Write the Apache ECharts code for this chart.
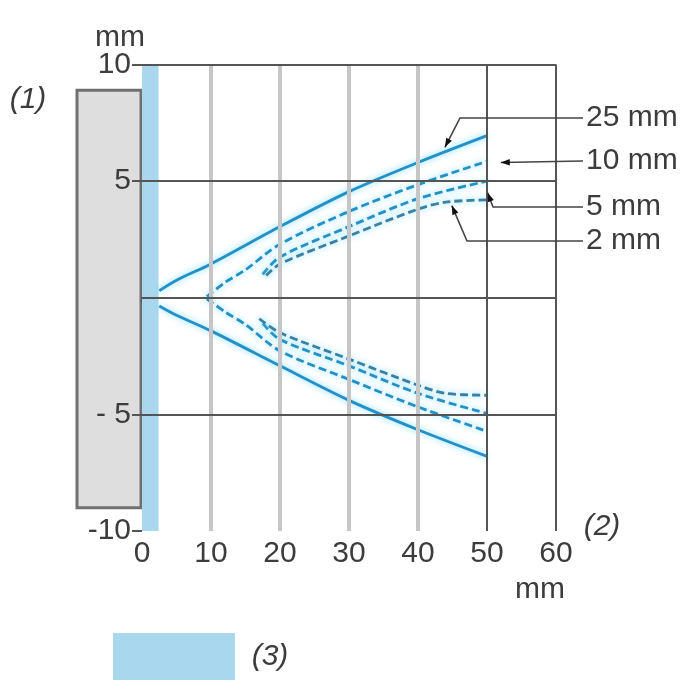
<!DOCTYPE html>
<html><head><meta charset="utf-8">
<script src="https://cdn.jsdelivr.net/npm/echarts@6/dist/echarts.min.js"></script>
<style>html,body{margin:0;padding:0;background:#fff}#c{width:700px;height:700px}</style>
</head><body><div id="c"></div>
<script>
// ---- data ----
const curveNames = ['25 mm', '10 mm', '5 mm', '2 mm'];
const yTickValues = [-10, -5, 5, 10];
const yTickLabels = ['-10', '- 5', '5', '10'];
const xTickLabels = ['0', '10', '20', '30', '40', '50', '60'];

const upper25 = [[2.5, 0.3], [5, 0.75], [10, 1.45], [20, 3.05], [30, 4.55], [40, 5.8], [50, 6.95]];
const upper10 = [[9.4, 0.05], [12, 0.65], [15, 1.2], [20, 2.3], [30, 3.7], [40, 4.85], [50, 5.85]];
const upper5  = [[17.5, 1.0], [20, 1.75], [30, 3.05], [40, 4.25], [50, 5.0]];
const upper2  = [[18, 0.95], [20, 1.45], [30, 2.65], [40, 3.8], [44, 4.1], [50, 4.2]];

const lower25 = [[2.5, -0.35], [5, -0.75], [10, -1.42], [20, -2.92], [30, -4.4], [40, -5.66], [50, -6.8]];
const lower10 = [[9.4, -0.05], [12, -0.6], [15, -1.15], [20, -2.28], [30, -3.5], [40, -4.68], [50, -5.73]];
const lower5  = [[17.5, -1.1], [20, -1.79], [30, -2.92], [40, -4.1], [50, -4.96]];
const lower2  = [[17, -0.9], [20, -1.5], [30, -2.63], [40, -3.75], [44, -4.1], [50, -4.18]];

// ---- style ----
const BLUE = '#2390c6';
const BLUE2 = '#3b7fa2';
const TXT = '#3c3c3c';
const FONT = '"Liberation Sans", Arial, sans-serif';
const FS = 30;

function curve(name, data, dashed, color) {
  return {
    type: 'line', name: name, data: data, showSymbol: false, smooth: 0.3, z: 4,
    silent: true, animation: false,
    lineStyle: { color: color, width: 2.8, type: dashed ? [8, 4] : 'solid',
      shadowBlur: 6, shadowColor: 'rgba(110,215,255,0.95)' }
  };
}

const chart = echarts.init(document.getElementById('c'), null, { renderer: 'canvas' });
const dark = { color: '#555', width: 2, type: 'solid' };
const light = { color: '#c6c6c6', width: 4, type: 'solid' };

chart.setOption({
  animation: false,
  grid: { left: 142, right: 144, top: 64.5, bottom: 169 },
  xAxis: {
    type: 'value', min: 0, max: 60, interval: 10,
    axisLine: { show: true, lineStyle: { color: '#555', width: 2 } },
    axisTick: { show: true, length: 5, lineStyle: { color: '#555', width: 1.5 } },
    axisLabel: { fontSize: FS, color: TXT, margin: 8, fontFamily: FONT,
      formatter: (v) => xTickLabels[Math.round(v / 10)] },
    splitLine: { show: false }
  },
  yAxis: {
    type: 'value', min: -10, max: 10, interval: 5, z: 5,
    axisLine: { show: true, lineStyle: { color: 'rgba(0,0,0,0)' } },
    axisTick: { show: true, customValues: yTickValues, length: 10, lineStyle: { color: '#555', width: 2 } },
    axisLabel: { customValues: yTickValues, fontSize: FS, color: TXT, margin: 11, fontFamily: FONT,
      formatter: (v) => { const i = yTickValues.indexOf(v); return i < 0 ? '' : yTickLabels[i]; } },
    splitLine: { show: false }
  },
  series: [
    { type: 'line', data: [], z: 1, silent: true,
      markArea: { silent: true, itemStyle: { color: '#a9d8ee' },
        data: [[{ xAxis: 0, yAxis: -10 }, { xAxis: 2.4, yAxis: 10 }]] } },
    { type: 'line', data: [], z: 2, silent: true,
      markLine: { silent: true, symbol: 'none', label: { show: false }, animation: false,
        lineStyle: { type: 'solid' },
        data: [
          { xAxis: 10, lineStyle: light }, { xAxis: 20, lineStyle: light },
          { xAxis: 30, lineStyle: light }, { xAxis: 40, lineStyle: light },
          { xAxis: 50, lineStyle: dark }, { xAxis: 60, lineStyle: dark },
          { yAxis: 10, lineStyle: dark }, { yAxis: 5, lineStyle: dark },
          { yAxis: 0, lineStyle: dark }, { yAxis: -5, lineStyle: dark }
        ] } },
    curve(curveNames[0], upper25, false, BLUE),
    curve(curveNames[1], upper10, true, BLUE),
    curve(curveNames[2], upper5, true, BLUE),
    curve(curveNames[3], upper2, true, BLUE2),
    curve(curveNames[0], lower25, false, BLUE),
    curve(curveNames[1], lower10, true, BLUE),
    curve(curveNames[2], lower5, true, BLUE),
    curve(curveNames[3], lower2, true, BLUE2)
  ]
});

// ---- decorations ----
function px(pt) { return chart.convertToPixel({ gridIndex: 0 }, pt); }
function arrowPts(tip, from, len, half) {
  const dx = tip[0] - from[0], dy = tip[1] - from[1];
  const d = Math.hypot(dx, dy) || 1, ux = dx / d, uy = dy / d;
  const bx = tip[0] - ux * len, by = tip[1] - uy * len;
  return [tip, [bx - uy * half, by + ux * half], [bx + uy * half, by - ux * half]];
}
const origin = px([0, 0]);
const sensorTop = px([0, 8.9])[1];
const sensorBottom = px([0, -9.0])[1];

const annot = [
  { label: curveNames[0], y: 118, elbowX: 460, tip: [43.9, 6.45] },
  { label: curveNames[1], y: 161, elbowX: null, tip: [52, 5.8] },
  { label: curveNames[2], y: 207, elbowX: 493, tip: [50.1, 4.5] },
  { label: curveNames[3], y: 241, elbowX: 467, tip: [44.9, 3.95] }
];

const g = [
  { type: 'rect', z: 0, shape: { x: 77, y: sensorTop, width: origin[0] - 78, height: sensorBottom - sensorTop },
    style: { fill: '#dedede', stroke: '#707070', lineWidth: 3 } },
  { type: 'text', x: 120, y: 38, style: { text: 'mm', font: FS + 'px ' + FONT, fill: TXT, align: 'center', verticalAlign: 'middle' } },
  { type: 'text', x: 28, y: 100, style: { text: '(1)', font: 'italic ' + FS + 'px ' + FONT, fill: TXT, align: 'center', verticalAlign: 'middle' } },
  { type: 'text', x: 540, y: 590, style: { text: 'mm', font: FS + 'px ' + FONT, fill: TXT, align: 'center', verticalAlign: 'middle' } },
  { type: 'text', x: 602, y: 527, style: { text: '(2)', font: 'italic ' + FS + 'px ' + FONT, fill: TXT, align: 'center', verticalAlign: 'middle' } },
  { type: 'rect', shape: { x: 113, y: 633, width: 122, height: 47 }, style: { fill: '#a9d8ee' } },
  { type: 'text', x: 270, y: 657, style: { text: '(3)', font: 'italic ' + FS + 'px ' + FONT, fill: TXT, align: 'center', verticalAlign: 'middle' } }
];
annot.forEach(a => {
  const tip = px(a.tip);
  const pts = [[583, a.y]];
  if (a.elbowX !== null) pts.push([a.elbowX, a.y]);
  pts.push(tip);
  const from = pts[pts.length - 2];
  g.push({ type: 'polyline', z: 10, shape: { points: pts }, style: { stroke: '#444', lineWidth: 1.6, fill: null } });
  g.push({ type: 'polygon', z: 10, shape: { points: arrowPts(tip, from, 9, 3.2) }, style: { fill: '#111' } });
  g.push({ type: 'text', z: 10, x: 586, y: a.y, style: { text: a.label, font: FS + 'px ' + FONT, fill: TXT, align: 'left', verticalAlign: 'middle' } });
});
chart.setOption({ graphic: g });
</script></body></html>
